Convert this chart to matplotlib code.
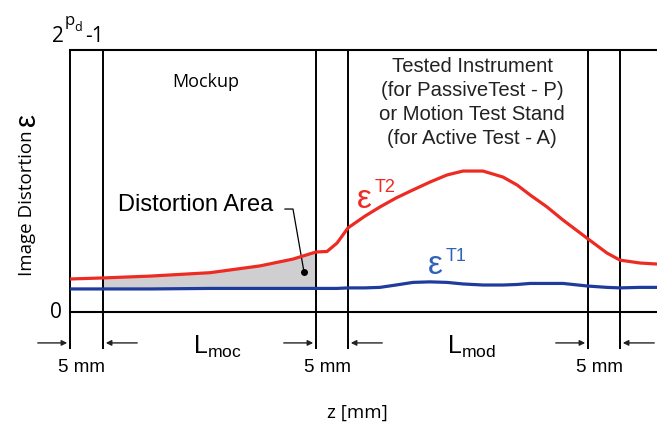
import numpy as np
import matplotlib
matplotlib.use('Agg')
from matplotlib import pyplot as plt

plt.rcParams['font.family'] = ['Liberation Sans', 'DejaVu Sans']
plt.rcParams['mathtext.fontset'] = 'custom'
plt.rcParams['mathtext.rm'] = 'Liberation Sans'
plt.rcParams['mathtext.it'] = 'Liberation Sans'

# z positions (schematic units, 0 = left frame) and distortion (1 = 2^pd - 1)
z = [0, 33, 80, 140, 190, 223, 246, 257, 267, 278, 295, 310, 326, 343, 360,
     377, 393, 413, 433, 447, 460, 477, 493, 518, 537, 550, 570, 587]
eps_t2 = [0.126, 0.130, 0.137, 0.150, 0.176, 0.202, 0.229, 0.231, 0.263, 0.321,
          0.366, 0.401, 0.435, 0.466, 0.496, 0.523, 0.538, 0.538, 0.515, 0.485,
          0.447, 0.401, 0.351, 0.279, 0.225, 0.198, 0.187, 0.183]
eps_t1 = [0.088, 0.088, 0.088, 0.090, 0.090, 0.090, 0.090, 0.090, 0.090, 0.092,
          0.092, 0.094, 0.103, 0.113, 0.115, 0.113, 0.107, 0.103, 0.103, 0.105,
          0.109, 0.109, 0.109, 0.099, 0.094, 0.092, 0.094, 0.094]

# section boundaries: 5 mm gap, mockup, 5 mm gap, module, 5 mm gap
bounds = [0, 33, 246, 278, 518, 550]
gaps = [(0, 33), (246, 278), (518, 550)]
gap_label = '5 mm'
area_from, area_to = 33, 246

RED = '#ee2b22'
BLUE = '#1f3b9c'
LBLUE = '#2f63b8'

fig = plt.figure(figsize=(6.57, 4.23), dpi=100)
ax = fig.add_axes([70/657, 111/423, 587/657, 262/423])
ax.set_xlim(0, 587)
ax.set_ylim(0, 1)
ax.axis('off')

z = np.array(z)
t1 = np.array(eps_t1)
t2 = np.array(eps_t2)

# frame: top line, zero line, section lines
ax.axhline(1.0, color='k', lw=1.5, clip_on=False)
ax.axhline(0.0, color='k', lw=1.5, clip_on=False)
ax.vlines(bounds, -0.14, 1.0, color='k', lw=1.4, clip_on=False)

# distortion area
m = (z >= area_from) & (z <= area_to)
ax.fill_between(z, t1, t2, where=m, color='#cfcfd1', lw=0, zorder=1)
ax.plot(z, t2, color=RED, lw=2.3, zorder=3, solid_capstyle='butt')
ax.plot(z, t1, color=BLUE, lw=2.3, zorder=3, solid_capstyle='butt')

# dimension arrows under the axis
ya = -0.118
for a, b in gaps:
    ax.annotate('', xy=(a, ya), xytext=(a - 35, ya), annotation_clip=False,
                arrowprops=dict(arrowstyle='-|>', color='#222222', lw=1.0, mutation_scale=8))
    ax.annotate('', xy=(b, ya), xytext=(b + 37, ya), annotation_clip=False,
                arrowprops=dict(arrowstyle='-|>', color='#222222', lw=1.0, mutation_scale=8))
    ax.text((a + b) / 2 - 5, -0.21, gap_label, ha='center', va='center', fontsize=13.5)

ax.text(147, -0.135, r'$\mathrm{L_{moc}}$', ha='center', va='center', fontsize=18)
ax.text(402, -0.135, r'$\mathrm{L_{mod}}$', ha='center', va='center', fontsize=18)
ax.text(287, -0.385, 'z [mm]', ha='center', va='center', fontsize=13.5, family='Open Sans')

# y axis labels
ax.text(-8, 0.0, '0', ha='right', va='center', fontsize=15, family='Open Sans')
ax.text(-18, 1.031, '2', ha='left', va='baseline', fontsize=15, family='Open Sans')
ax.text(-5, 1.094, 'p', ha='left', va='baseline', fontsize=12, family='Open Sans')
ax.text(4, 1.072, 'd', ha='left', va='baseline', fontsize=9, family='Open Sans')
ax.text(15, 1.031, '-1', ha='left', va='baseline', fontsize=15, family='Open Sans')
ax.text(-43, 0.416, 'Image Distortion', rotation=90, ha='center', va='center',
        fontsize=13.5, family='Open Sans')
ax.text(-43, 0.735, 'ε', rotation=90, ha='center', va='center', fontsize=21)

# section titles
ax.text(136, 0.878, 'Mockup', ha='center', va='center', fontsize=13, family='Open Sans')
ax.text(402, 0.80, 'Tested Instrument\n(for PassiveTest - P)\nor Motion Test Stand\n(for Active Test - A)',
        ha='center', va='center', fontsize=14.6, linespacing=1.33, color='#222222')

# curve labels
ax.text(294, 0.431, 'ε', ha='center', va='center', fontsize=24, color=RED)
ax.text(315, 0.475, 'T2', ha='center', va='center', fontsize=13, color=RED)
ax.text(365, 0.176, 'ε', ha='center', va='center', fontsize=24, color=LBLUE)
ax.text(386, 0.212, 'T1', ha='center', va='center', fontsize=13, color=LBLUE)

# distortion area callout
ax.text(203, 0.408, 'Distortion Area', ha='right', va='center', fontsize=17)
ax.plot([215, 223, 234], [0.393, 0.393, 0.153], color='k', lw=0.9)
ax.plot([234], [0.153], 'o', color='k', ms=4)

fig.savefig('out.png', dpi=100)
